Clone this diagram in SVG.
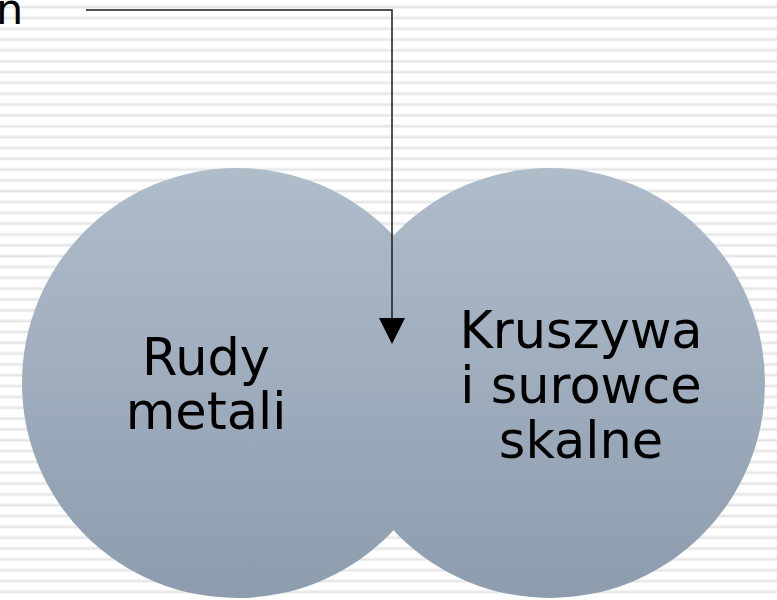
<svg xmlns="http://www.w3.org/2000/svg" width="777" height="600" viewBox="0 0 777 600">
  <style>
    .lbl { font-family: "DejaVu Sans", Verdana, sans-serif; font-size: 51px; fill: #000; text-anchor: middle; }
    .conn { fill: none; stroke: #1a1a1a; stroke-width: 1.5; }
  </style>
  <defs>
    <pattern id="stripes" x="0" y="0" width="777" height="10.83" patternUnits="userSpaceOnUse">
      <rect x="0" y="0" width="777" height="10.83" fill="#ffffff"/>
      <rect x="0" y="5.4" width="777" height="1" fill="#efefef"/>
      <rect x="0" y="6.4" width="777" height="1.4" fill="#e2e2e2"/>
      <rect x="0" y="7.8" width="777" height="0.8" fill="#efefef"/>
    </pattern>
    <linearGradient id="cg" x1="0" y1="0" x2="0" y2="1">
      <stop offset="0" stop-color="#afbcca"/>
      <stop offset="1" stop-color="#8d9dae"/>
    </linearGradient>
    <marker id="arr" viewBox="0 0 26 26" refX="24" refY="13" markerWidth="26" markerHeight="26" markerUnits="userSpaceOnUse" orient="auto">
      <path d="M0,0 L26,13 L0,26 Z" fill="#000"/>
    </marker>
  </defs>
  <rect x="0" y="0" width="777" height="600" fill="url(#stripes)"/>

  <g id="node-left">
    <circle cx="237" cy="383" r="215" fill="url(#cg)"/>
  </g>
  <g id="node-right">
    <circle cx="550" cy="383" r="215" fill="url(#cg)"/>
  </g>
  <g id="label-left">
    <text class="lbl" x="206" y="375">Rudy</text>
    <text class="lbl" x="206" y="429">metali</text>
  </g>
  <g id="label-right">
    <text class="lbl" x="581" y="348">Kruszywa</text>
    <text class="lbl" x="581" y="403">i surowce</text>
    <text class="lbl" x="581" y="458">skalne</text>
  </g>
  <g id="label-top">
    <text x="-4" y="24" style="font-family:'DejaVu Sans',Verdana,sans-serif;font-size:43px;fill:#000">n</text>
  </g>
  <g id="connectors">
    <path class="conn" d="M86,10 H392 V342" marker-end="url(#arr)"/>
  </g>
</svg>
